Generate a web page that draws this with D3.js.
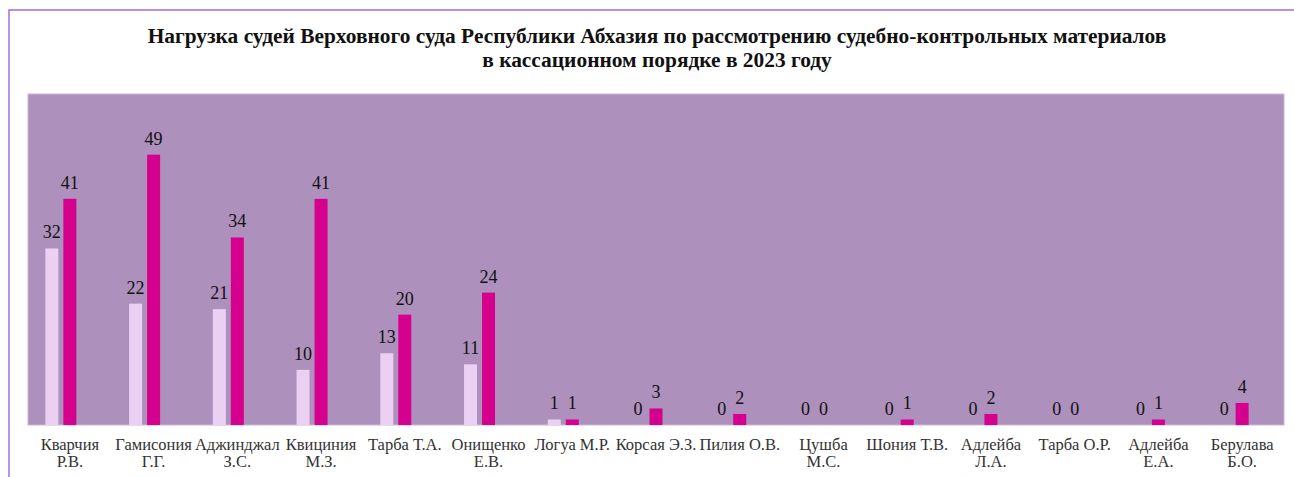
<!DOCTYPE html>
<html>
<head>
<meta charset="utf-8">
<script src="https://cdn.jsdelivr.net/npm/d3@7"></script>
<style>
  body { margin: 0; background: #fff; }
  text { font-family: "Liberation Serif", "Times New Roman", serif; }
</style>
</head>
<body>
<div id="chart"></div>
<script>
// judges (line breaks as on the axis)
var judges = [
  "Кварчия\nР.В.", "Гамисония\nГ.Г.", "Аджинджал\nЗ.С.", "Квициния\nМ.З.", "Тарба Т.А.",
  "Онищенко\nЕ.В.", "Логуа М.Р.", "Корсая Э.З.", "Пилия О.В.", "Цушба\nМ.С.",
  "Шония Т.В.", "Адлейба\nЛ.А.", "Тарба О.Р.", "Адлейба\nЕ.А.", "Берулава\nБ.О."
];
var seriesA = [32, 22, 21, 10, 13, 11, 1, 0, 0, 0, 0, 0, 0, 0, 0];
var seriesB = [41, 49, 34, 41, 20, 24, 1, 3, 2, 0, 1, 2, 0, 1, 4];
var titleLines = [
  "Нагрузка судей Верховного суда Республики Абхазия по рассмотрению судебно-контрольных материалов",
  "в кассационном порядке в 2023 году"
];

var svgWidth = 1294;
var svgHeight = 477;
var plot = { left: 28, right: 1284, top: 94, bottom: 425 };

var svg = d3.select("#chart")
  .append("svg")
  .attr("width", svgWidth)
  .attr("height", svgHeight);

// outer frame lines
svg.append("path")
  .attr("d", `M9,${svgHeight} L9,10 L${svgWidth},10`)
  .attr("fill", "none")
  .attr("stroke", "#a36fcc")
  .attr("stroke-width", 1.5);

// title
svg.append("text")
  .attr("text-anchor", "middle")
  .style("font-weight", "bold")
  .style("font-size", "21.4px")
  .attr("fill", "#111")
  .selectAll("tspan")
  .data(titleLines)
  .enter()
  .append("tspan")
  .attr("x", 657)
  .attr("y", (d, i) => 43 + i * 23.5)
  .text(d => d);

// plot area
svg.append("rect")
  .attr("x", plot.left)
  .attr("y", plot.top)
  .attr("width", plot.right - plot.left)
  .attr("height", plot.bottom - plot.top)
  .attr("fill", "#ae90bd")
  .attr("stroke", "#cbb6d6")
  .attr("stroke-width", 1);

var step = (plot.right - plot.left) / judges.length;
var groupWidth = 49;
var x0 = d3.scaleBand()
  .domain(d3.range(judges.length))
  .range([plot.left, plot.right])
  .paddingInner(1 - groupWidth / step)
  .paddingOuter((1 - groupWidth / step) / 2);

// three slots: the third one stays empty
var x1 = d3.scaleBand()
  .domain([0, 1, 2])
  .range([0, x0.bandwidth()])
  .paddingInner(5 / 18);

var y = d3.scaleLinear().domain([0, 60]).range([plot.bottom, plot.top]);

var series = [
  { values: seriesA, color: "#ebd0f3", slot: 0 },
  { values: seriesB, color: "#d6008f", slot: 1 }
];

series.forEach(function(s) {
  var g = svg.append("g");
  g.selectAll("rect")
    .data(s.values)
    .enter()
    .append("rect")
    .attr("x", (d, i) => x0(i) + x1(s.slot))
    .attr("y", d => y(d))
    .attr("width", x1.bandwidth())
    .attr("height", d => y(0) - y(d))
    .attr("fill", s.color);

  g.selectAll("text")
    .data(s.values)
    .enter()
    .append("text")
    .attr("x", (d, i) => x0(i) + x1(s.slot) + x1.bandwidth() / 2)
    .attr("y", d => y(d) - 10)
    .attr("text-anchor", "middle")
    .style("font-size", "18px")
    .attr("fill", "#111")
    .text(d => d);
});

// category labels
var xLabels = svg.append("g")
  .selectAll("text")
  .data(judges)
  .enter()
  .append("text")
  .attr("text-anchor", "middle")
  .style("font-size", "16.5px")
  .attr("fill", "#333");

xLabels.selectAll("tspan")
  .data((d, i) => d.split("\n").map(t => ({ t: t, i: i })))
  .enter()
  .append("tspan")
  .attr("x", d => x0(d.i) + x0.bandwidth() / 2)
  .attr("y", (d, j) => 450 + j * 17)
  .text(d => d.t);
</script>
</body>
</html>
